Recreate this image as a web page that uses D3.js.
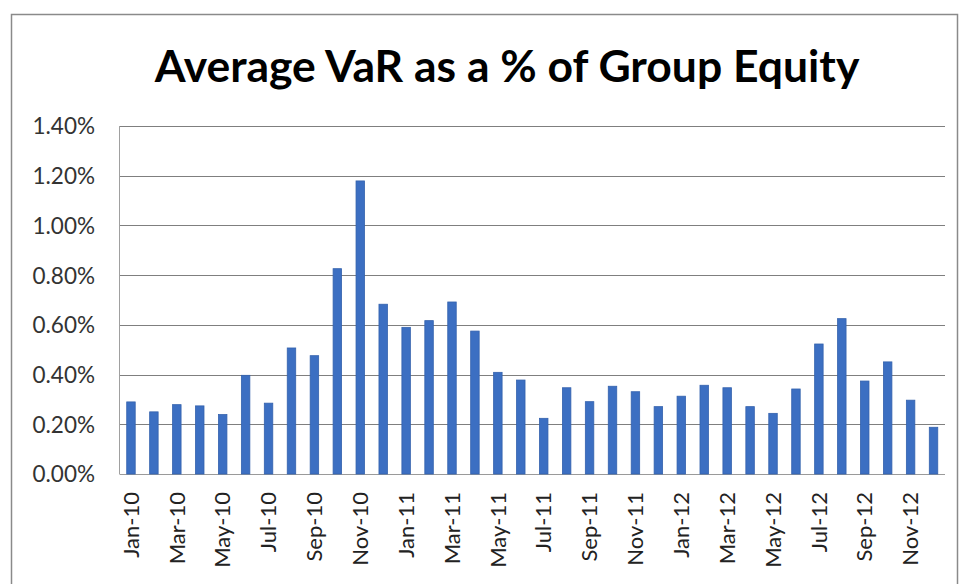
<!DOCTYPE html>
<html><head><meta charset="utf-8">
<script src="https://cdn.jsdelivr.net/npm/d3@7"></script>
<style>body{margin:0;background:#fff}svg{display:block}</style>
</head><body>
<svg id="c" width="959" height="584"></svg>
<script>
const months = ["Jan-10","Feb-10","Mar-10","Apr-10","May-10","Jun-10","Jul-10","Aug-10","Sep-10","Oct-10","Nov-10","Dec-10",
"Jan-11","Feb-11","Mar-11","Apr-11","May-11","Jun-11","Jul-11","Aug-11","Sep-11","Oct-11","Nov-11","Dec-11",
"Jan-12","Feb-12","Mar-12","Apr-12","May-12","Jun-12","Jul-12","Aug-12","Sep-12","Oct-12","Nov-12","Dec-12"];
const varPct = [0.290,0.250,0.279,0.274,0.239,0.397,0.285,0.507,0.476,0.826,1.179,0.683,
0.590,0.617,0.692,0.575,0.409,0.378,0.224,0.347,0.291,0.353,0.331,0.271,
0.313,0.357,0.347,0.271,0.244,0.342,0.523,0.625,0.374,0.451,0.297,0.188];
const yTicks = [0,0.2,0.4,0.6,0.8,1.0,1.2,1.4];
const title = "Average VaR as a % of Group Equity";

const svg = d3.select("#c");
const font = "Lato, 'Open Sans', sans-serif";
const L=119.5, R=945, T=126, B=474;

svg.append("rect").attr("x",11.5).attr("y",14.5).attr("width",946).attr("height",580)
  .attr("fill","#fff").attr("stroke","#8a8a8a").attr("stroke-width",1.5);

const x = d3.scaleBand().domain(months).range([L,R]).paddingInner(0.63).paddingOuter(0.315);
const y = d3.scaleLinear().domain([0,1.4]).range([B,T]);

// gridlines
svg.append("g").selectAll("line").data(yTicks).join("line")
  .attr("x1",L).attr("x2",R).attr("y1",d=>Math.round(y(d))+0.5).attr("y2",d=>Math.round(y(d))+0.5)
  .attr("stroke",d=>d===0?"#9a9a9a":"#7f7f7f").attr("stroke-width",1);
svg.append("line").attr("x1",L).attr("x2",L).attr("y1",T).attr("y2",B).attr("stroke","#a0a0a0");

// bars
svg.append("g").selectAll("rect").data(varPct).join("rect")
  .attr("x",(d,i)=>x(months[i])).attr("width",x.bandwidth())
  .attr("y",d=>y(d)).attr("height",d=>B-y(d))
  .attr("fill","#3c6fc2").attr("stroke","#3462ad").attr("stroke-width",0.8);

// y axis labels
const yAxis = d3.axisLeft(y).tickValues(yTicks).tickSize(0).tickPadding(0)
  .tickFormat(d=>d3.format(".2f")(d)+"%");
const ya = svg.append("g").attr("transform",`translate(95,0)`).call(yAxis);
ya.select(".domain").remove();
ya.selectAll("text").attr("font-family",font).attr("font-size",22.5).attr("fill","#333").attr("dy","0.35em");

// x axis labels
const xAxis = d3.axisBottom(x).tickValues(months.filter((m,i)=>i%2===0)).tickSize(0).tickPadding(0);
const xa = svg.append("g").attr("transform",`translate(0,${B})`).call(xAxis);
xa.select(".domain").remove();
xa.selectAll("text").attr("font-family",font).attr("font-size",22).attr("fill","#222")
  .attr("transform","rotate(-90)").attr("text-anchor","end").attr("x",-18).attr("y",0).attr("dy","0.35em");

// title
const t = svg.append("text").attr("x",507).attr("y",82).attr("text-anchor","middle")
  .attr("font-family",font).attr("font-weight","bold").attr("font-size",40).attr("fill","#000").text(title);
const w = t.node().getComputedTextLength();
t.attr("font-size",40*705/w);
</script>
</body></html>
